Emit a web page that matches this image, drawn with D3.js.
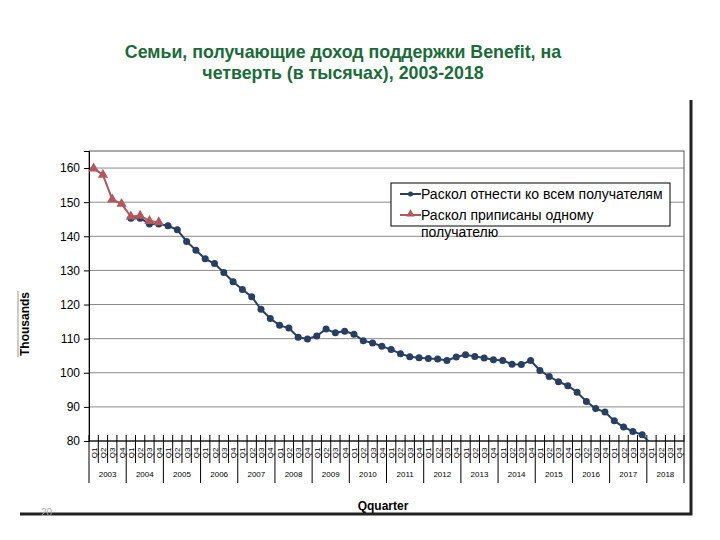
<!DOCTYPE html>
<html>
<head>
<meta charset="utf-8">
<script src="https://cdn.jsdelivr.net/npm/d3@7"></script>
<style>
  body { margin: 0; background: #fff; }
  text { font-family: "Liberation Sans", Arial, sans-serif; }
</style>
</head>
<body>
<script>
var years = ['2003', '2004', '2005', '2006', '2007', '2008', '2009', '2010',
             '2011', '2012', '2013', '2014', '2015', '2016', '2017', '2018'];
var quarters = ['Q1', 'Q2', 'Q3', 'Q4'];

// one entry per quarter, null where there is no point
var allRecipients = [null, null, null, null,
  145.3, 145.3, 143.6, 143.6, 143.1, 141.9, 138.5, 135.9, 133.4, 132.0,
  129.4, 126.7, 124.4, 122.3, 118.6, 115.9, 113.9, 113.1, 110.4, 109.9,
  110.8, 112.8, 111.7, 112.2, 111.3, 109.4, 108.7, 107.8, 106.8, 105.6,
  104.7, 104.4, 104.2, 104.0, 103.6, 104.6, 105.3, 104.8, 104.3, 103.8,
  103.6, 102.5, 102.4, 103.6, 100.7, 98.9, 97.4, 96.2, 94.3, 91.6,
  89.5, 88.5, 85.9, 84.1, 82.8, 81.8, 79.0, null, null, null];
var oneRecipient = [159.9, 158.0, 150.8, 149.5, 145.8, 146.0, 144.5, 144.1];

var yTicks = [80, 90, 100, 110, 120, 130, 140, 150, 160];

var seriesNames = ['Раскол отнести ко всем получателям',
                   'Раскол приписаны одному получателю'];

var width = 720;
var height = 540;

var categories = [];
years.forEach(function(y) {
  quarters.forEach(function(q) { categories.push(y + ' ' + q); });
});

var svg = d3.select('body').append('svg')
  .attr('width', width)
  .attr('height', height);

var plotLeft = 89, plotRight = 684, plotTop = 151, plotBottom = 441;

var x = d3.scaleBand().domain(categories).range([plotLeft, plotRight]).padding(0);
var y = d3.scaleLinear().domain([80, 165]).range([plotBottom, plotTop]);
var cx = function(i) { return x(categories[i]) + x.bandwidth() / 2; };

// title
var title = svg.append('text')
  .attr('fill', '#1b6b3a')
  .attr('font-size', 17.8)
  .attr('font-weight', 'bold')
  .attr('text-anchor', 'middle');
title.append('tspan').attr('x', 343).attr('y', 58)
  .text('Семьи, получающие доход поддержки Benefit, на');
title.append('tspan').attr('x', 343).attr('y', 79)
  .text('четверть (в тысячах), 2003-2018');

// slide frame (right and bottom)
svg.append('path')
  .attr('d', 'M691,100 V514 H20')
  .attr('fill', 'none')
  .attr('stroke', '#222')
  .attr('stroke-width', 3);

// gridlines
svg.selectAll('.grid').data(yTicks.slice(1)).enter().append('line')
  .attr('class', 'grid')
  .attr('x1', plotLeft).attr('x2', plotRight)
  .attr('y1', function(d) { return y(d); })
  .attr('y2', function(d) { return y(d); })
  .attr('stroke', '#8a8a8a')
  .attr('stroke-width', 1);

// plot frame
svg.append('rect')
  .attr('x', plotLeft).attr('y', plotTop)
  .attr('width', plotRight - plotLeft).attr('height', plotBottom - plotTop)
  .attr('fill', 'none')
  .attr('stroke', '#555')
  .attr('stroke-width', 1);

// y axis
var yAxis = svg.append('g')
  .attr('transform', 'translate(' + plotLeft + ',0)')
  .call(d3.axisLeft(y).tickValues(yTicks).tickSize(5).tickPadding(4));
yAxis.select('.domain').attr('stroke', '#000');
yAxis.selectAll('text').attr('font-size', 12).attr('fill', '#000')
  .style('font-family', '"Liberation Sans", Arial, sans-serif');

// category axis
svg.append('line')
  .attr('x1', plotLeft).attr('x2', plotRight)
  .attr('y1', plotBottom).attr('y2', plotBottom)
  .attr('stroke', '#000');

var bounds = d3.range(categories.length + 1);
svg.selectAll('.ctick').data(bounds).enter().append('line')
  .attr('class', 'ctick')
  .attr('x1', function(d) { return plotLeft + d * x.bandwidth(); })
  .attr('x2', function(d) { return plotLeft + d * x.bandwidth(); })
  .attr('y1', plotBottom - 6)
  .attr('y2', function(d) { return d % 4 === 0 ? 483 : 463; })
  .attr('stroke', '#000')
  .attr('stroke-width', 1);

svg.selectAll('.qlabel').data(categories).enter().append('text')
  .attr('class', 'qlabel')
  .attr('transform', function(d, i) {
    return 'translate(' + (cx(i) + 3) + ',453) rotate(-90)';
  })
  .attr('text-anchor', 'middle')
  .attr('font-size', 8)
  .text(function(d, i) { return quarters[i % 4]; });

svg.selectAll('.ylabel').data(years).enter().append('text')
  .attr('class', 'ylabel')
  .attr('x', function(d, i) { return plotLeft + (i * 4 + 2) * x.bandwidth(); })
  .attr('y', 477)
  .attr('text-anchor', 'middle')
  .attr('font-size', 8)
  .text(function(d) { return d; });

// axis titles
svg.append('text')
  .attr('x', 383).attr('y', 510)
  .attr('text-anchor', 'middle')
  .attr('font-size', 12)
  .attr('font-weight', 'bold')
  .text('Qquarter');

svg.append('text')
  .attr('transform', 'translate(29,324) rotate(-90)')
  .attr('text-anchor', 'middle')
  .attr('font-size', 12)
  .attr('font-weight', 'bold')
  .text('Thousands');
svg.append('line')
  .attr('x1', 18).attr('x2', 18).attr('y1', 291).attr('y2', 357)
  .attr('stroke', '#999');

svg.append('text')
  .attr('x', 41).attr('y', 516)
  .attr('font-size', 10)
  .attr('fill', '#aaa')
  .text('20');

// series
svg.append('clipPath').attr('id', 'plot')
  .append('rect')
  .attr('x', plotLeft).attr('y', plotTop)
  .attr('width', plotRight - plotLeft).attr('height', plotBottom - plotTop);

var plot = svg.append('g').attr('clip-path', 'url(#plot)');

var blueData = allRecipients.map(function(v, i) { return { i: i, v: v }; })
  .filter(function(d) { return d.v !== null; });
var redData = oneRecipient.map(function(v, i) { return { i: i, v: v }; });

var line = d3.line()
  .x(function(d) { return cx(d.i); })
  .y(function(d) { return y(d.v); });

plot.append('path')
  .datum(blueData)
  .attr('d', line)
  .attr('fill', 'none')
  .attr('stroke', '#283f61')
  .attr('stroke-width', 2);

plot.selectAll('.dot').data(blueData).enter().append('circle')
  .attr('class', 'dot')
  .attr('cx', function(d) { return cx(d.i); })
  .attr('cy', function(d) { return y(d.v); })
  .attr('r', 3.5)
  .attr('fill', '#283f61');

plot.append('path')
  .datum(redData)
  .attr('d', line)
  .attr('fill', 'none')
  .attr('stroke', '#b0585e')
  .attr('stroke-width', 2);

var tri = d3.symbol().type(d3.symbolTriangle).size(46);
plot.selectAll('.tri').data(redData).enter().append('path')
  .attr('class', 'tri')
  .attr('transform', function(d) {
    return 'translate(' + cx(d.i) + ',' + y(d.v) + ')';
  })
  .attr('d', tri)
  .attr('fill', '#b0585e');

// legend
var legend = svg.append('g');
legend.append('rect')
  .attr('x', 391).attr('y', 183)
  .attr('width', 279).attr('height', 43)
  .attr('fill', '#fff')
  .attr('stroke', '#000');

legend.append('line')
  .attr('x1', 400).attr('x2', 421).attr('y1', 194).attr('y2', 194)
  .attr('stroke', '#283f61').attr('stroke-width', 2);
legend.append('circle')
  .attr('cx', 410.5).attr('cy', 194).attr('r', 2.5)
  .attr('fill', '#283f61');
legend.append('line')
  .attr('x1', 400).attr('x2', 421).attr('y1', 215).attr('y2', 215)
  .attr('stroke', '#b0585e').attr('stroke-width', 2);
legend.append('path')
  .attr('transform', 'translate(410.5,214)')
  .attr('d', d3.symbol().type(d3.symbolTriangle).size(30))
  .attr('fill', '#b0585e');

legend.append('text')
  .attr('x', 421).attr('y', 199)
  .attr('font-size', 14)
  .text(seriesNames[0]);
var t2 = legend.append('text')
  .attr('font-size', 14);
t2.append('tspan').attr('x', 421).attr('y', 220).text('Раскол приписаны одному');
t2.append('tspan').attr('x', 421).attr('y', 237).text('получателю');
</script>
</body>
</html>
